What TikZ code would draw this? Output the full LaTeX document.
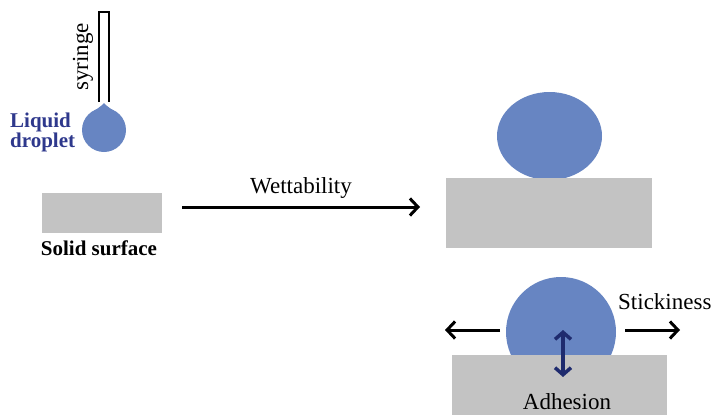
\documentclass[tikz,border=0pt]{standalone}
\usepackage{fontspec}
\setmainfont{Liberation Serif}
\usetikzlibrary{arrows.meta}

\definecolor{dropblue}{RGB}{103,133,194}
\definecolor{labelblue}{RGB}{46,56,140}
\definecolor{adhnavy}{RGB}{31,43,110}
\definecolor{solidgray}{RGB}{195,195,195}

\tikzset{
  surface/.style={fill=solidgray},
  liquid/.style={fill=dropblue},
  push/.style={line width=3pt, -{Straight Barb[length=8pt,width=17pt]}},
  pull/.style={line width=3.5pt, color=adhnavy, {Straight Barb[length=7pt,width=16pt]}-{Straight Barb[length=7pt,width=16pt]}},
  lbl/.style={font=\fontsize{23}{20}\selectfont, inner sep=0pt},
  blbl/.style={lbl, font=\fontsize{21}{20}\selectfont\bfseries},
}

\begin{document}
\begin{tikzpicture}[x=1pt,y=-1pt]
  \useasboundingbox (0,0) rectangle (717,415);

  % syringe with the drop hanging from it
  \draw[line width=2pt] (99,102) -- (99,12) -- (109,12) -- (109,102);
  \node[lbl, rotate=90] (syr) at (83,57) {syringe};
  \coordinate (tip) at (104,103); \coordinate (dc) at (104,130);
  \fill[liquid] (tip) .. controls (106,106) and (113,110) .. (117,113)
    -- (dc) -- (91,113) .. controls (95,110) and (102,106) .. (tip);
  \fill[liquid] (dc) circle (22);
  \node[blbl, text=labelblue, align=left, anchor=west] (liq) at (10,132) {Liquid\\droplet};

  % bare solid
  \fill[surface] (42,193) rectangle (162,233);
  \node[blbl] (sol) at (99,248) {Solid surface};

  % wetting
  \coordinate (w0) at (182,207); \coordinate (w1) at (420,207);
  \draw[push] (w0) -- node[lbl, above=7pt] (wet) {Wettability} (w1);

  % drop resting on the surface
  \fill[liquid] (549.5,136) ellipse (52.5 and 44);
  \fill[surface] (446,178) rectangle (652,248);

  % sticking drop
  \fill[liquid] (561,332) circle (55);
  \fill[surface] (452,355) rectangle (667,415);
  \coordinate (sl0) at (500,330); \coordinate (sl1) at (445,330);
  \coordinate (sr0) at (625,330); \coordinate (sr1) at (680,330);
  \draw[push] (sl0) -- (sl1);
  \draw[push] (sr0) -- (sr1);
  \node[lbl, anchor=west] (stk) at (618,302) {Stickiness};
  \coordinate (a0) at (563,330); \coordinate (a1) at (563,377);
  \draw[pull] (a0) -- (a1);
  \node[lbl] (adh) at (567,402) {Adhesion};
\end{tikzpicture}
\end{document}
